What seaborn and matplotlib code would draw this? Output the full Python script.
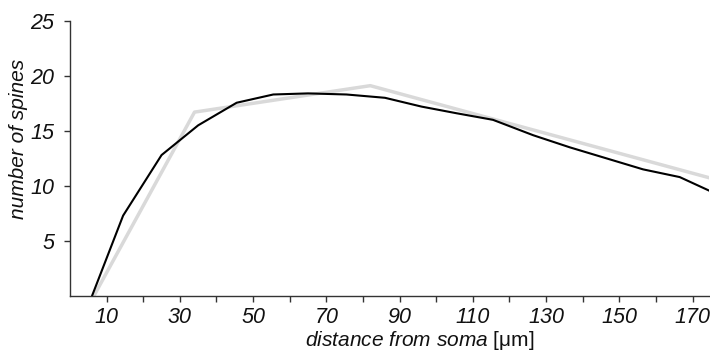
import seaborn as sns
import pandas as pd
import matplotlib.pyplot as plt

# measured spine counts (black) and piecewise fit (gray)
dist = [6, 14.5, 25, 35, 45.5, 55.5, 65, 75.5, 86, 96, 105.5, 115.5, 126.5, 136.5, 146.5, 156.5, 166.5, 175]
spines = [0, 7.3, 12.8, 15.5, 17.55, 18.3, 18.4, 18.3, 18.0, 17.2, 16.6, 16.0, 14.6, 13.5, 12.5, 11.5, 10.8, 9.5]
fit_dist = [6.5, 34, 82, 175]
fit_spines = [0, 16.7, 19.1, 10.7]

x_labels = [10, 30, 50, 70, 90, 110, 130, 150, 170]
x_minor = [20, 40, 60, 80, 100, 120, 140, 160]
y_labels = [5, 10, 15, 20, 25]

sns.set_style("ticks")
plt.rcParams["font.family"] = ["Liberation Sans", "DejaVu Sans"]
plt.rcParams["mathtext.fontset"] = "custom"
plt.rcParams["mathtext.it"] = "Liberation Sans:italic"
plt.rcParams["mathtext.rm"] = "Liberation Sans"
plt.rcParams["text.color"] = "#111111"
plt.rcParams["axes.labelcolor"] = "#111111"
plt.rcParams["xtick.labelcolor"] = "#111111"
plt.rcParams["ytick.labelcolor"] = "#111111"

measured = pd.DataFrame({"dist": dist, "spines": spines})
fit = pd.DataFrame({"dist": fit_dist, "spines": fit_spines})

fig, ax = plt.subplots(figsize=(7.1, 3.54), dpi=100)
fig.subplots_adjust(left=0.0986, right=0.9986, bottom=0.1638, top=0.9415)

sns.lineplot(data=fit, x="dist", y="spines", color="#d9d9d9", linewidth=2.5, ax=ax)
sns.lineplot(data=measured, x="dist", y="spines", color="black", linewidth=1.5, ax=ax)

ax.set_xlim(0, 174.5)
ax.set_ylim(0, 25)
ax.set_xticks(x_labels)
ax.set_xticks(x_minor, minor=True)
ax.set_yticks(y_labels)

ax.tick_params(which="both", length=4, width=1, color="#333333", labelsize=15.5)
ax.tick_params(axis="y", which="both", pad=7.5)
ax.tick_params(axis="x", which="both", pad=4)
sns.despine(ax=ax)
for s in ["left", "bottom"]:
    ax.spines[s].set_color("#333333")
    ax.spines[s].set_linewidth(1)

for lab in ax.get_xticklabels() + ax.get_yticklabels():
    lab.set_fontstyle("italic")

ax.set_xlabel(r"$\mathit{distance\ from\ soma}$ [μm]", fontsize=15)
ax.xaxis.set_label_coords(0.548, -0.12)
ax.set_ylabel("number of spines", fontsize=15, fontstyle="italic")
ax.yaxis.set_label_coords(-0.065, 0.572)

fig.savefig("out.png", dpi=100)
